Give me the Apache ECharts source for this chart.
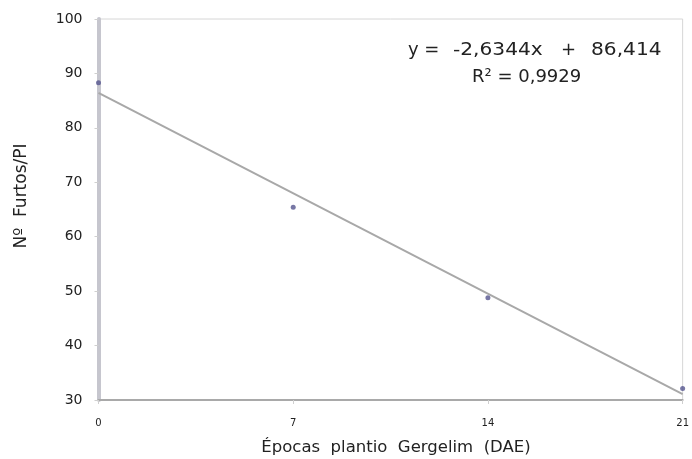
<!DOCTYPE html>
<html><head><meta charset="utf-8">
<script src="https://cdn.jsdelivr.net/npm/echarts@6/dist/echarts.min.js"></script>
<style>html,body{margin:0;padding:0;background:#fff}#c{width:692px;height:459px}</style>
</head><body><div id="c"></div>
<script>
const xValues = [0, 7, 14, 21];
const yValues = [88.3, 65.4, 48.8, 32.1];
const trendX = [0, 21];
const trendY = [86.414, 31.09];
const xTicks = [0, 7, 14, 21];
const yTicks = [30, 40, 50, 60, 70, 80, 90, 100];
const xTitle = 'Épocas  plantio  Gergelim  (DAE)';
const yTitle = 'Nº  Furtos/PI';
const eqParts = ['y =', '-2,6344x', '+', '86,414'];
const r2Text = 'R² = 0,9929';

const chart = echarts.init(document.getElementById('c'));
const font = 'DejaVu Sans, sans-serif';
const eqX = [408, 453, 561, 591];
const eqScale = [1.0, 1.12, 1.0, 1.12];
chart.setOption({
  animation: false,
  grid: {left: 98.5, right: 9, top: 19, bottom: 59, show: true, borderColor: '#d6d6d6', borderWidth: 1},
  xAxis: {
    type: 'value', min: 0, max: 21, interval: 7,
    axisLine: {lineStyle: {color: '#a9a9a9', width: 2}},
    axisTick: {show: true, length: 4, lineStyle: {color: '#cfcfcf'}},
    axisLabel: {fontFamily: font, fontSize: 10, color: '#222', margin: 18},
    splitLine: {show: false}
  },
  yAxis: {
    type: 'value', min: 30, max: 100, interval: 10,
    axisLine: {show: true, lineStyle: {color: '#c6c6ce', width: 4}},
    axisTick: {show: true, length: 4, lineStyle: {color: '#cfcfcf'}},
    axisLabel: {fontFamily: font, fontSize: 14, color: '#222', margin: 16},
    splitLine: {show: false}
  },
  series: [
    {type: 'line', data: trendX.map((x, i) => [x, trendY[i]]), symbol: 'none',
     lineStyle: {color: '#a8a8a8', width: 2}, z: 2},
    {type: 'scatter', data: xValues.map((x, i) => [x, yValues[i]]), symbolSize: 5,
     itemStyle: {color: '#55558f'}, z: 3}
  ],
  graphic: eqParts.map((t, i) => ({
      type: 'text', x: eqX[i], y: 50, scaleX: eqScale[i],
      style: {text: t, fontFamily: font, fontSize: 18, fill: '#222', textVerticalAlign: 'middle'}
    })).concat([
    {type: 'text', x: 472, y: 77, style: {text: r2Text, fontFamily: font, fontSize: 18, fill: '#222', textVerticalAlign: 'middle'}},
    {type: 'text', x: 396, y: 448, style: {text: xTitle, fontFamily: font, fontSize: 16.5, fill: '#222', textAlign: 'center', textVerticalAlign: 'middle'}},
    {type: 'text', x: 22, y: 196, rotation: Math.PI / 2, style: {text: yTitle, fontFamily: font, fontSize: 17, fill: '#222', textAlign: 'center', textVerticalAlign: 'middle'}}
  ])
});
</script></body></html>
